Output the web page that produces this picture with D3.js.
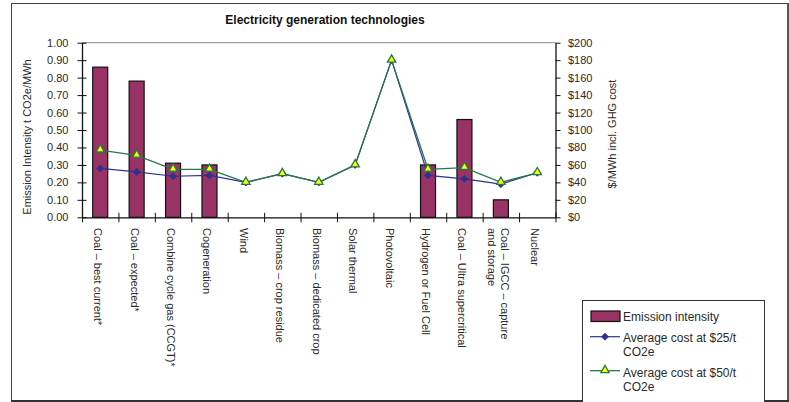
<!DOCTYPE html>
<html><head><meta charset="utf-8">
<script src="https://cdn.jsdelivr.net/npm/d3@7"></script>
<style>
html,body{margin:0;padding:0;background:#fff;}
svg{display:block;font-family:"Liberation Sans",Arial,Helvetica,sans-serif;}
</style></head><body>
<svg id="chart" width="789" height="402"></svg>
<script>
// Technologies compared ("\n" marks a label line break)
const categories = [
  "Coal – best current*", "Coal – expected*", "Combine cycle gas (CCGT)*", "Cogeneration",
  "Wind", "Biomass – crop residue", "Biomass – dedicated crop", "Solar thermal",
  "Photovoltaic", "Hydrogen or Fuel Cell", "Coal – Ultra supercritical",
  "Coal – IGCC – capture\nand storage", "Nuclear"
];
// Emission intensity, t CO2e/MWh (null = no bar)
const emissionIntensity = [0.86, 0.78, 0.31, 0.30, null, null, null, null, null, 0.30, 0.56, 0.10, null];
// Average cost, $/MWh incl. GHG cost
const costAt25 = [56, 52, 47, 48, 40, 50, 40, 60, 180, 48, 44, 38, 51];
const costAt50 = [77, 71, 55, 55, 40, 50, 40, 60, 180, 55, 57, 40, 51];
// Axis ticks
const leftTicks = [0, 0.1, 0.2, 0.3, 0.4, 0.5, 0.6, 0.7, 0.8, 0.9, 1.0];
const rightTicks = [0, 20, 40, 60, 80, 100, 120, 140, 160, 180, 200];
const seriesNames = ["Emission intensity", "Average cost at $25/t CO2e", "Average cost at $50/t CO2e"];

const svg = d3.select("#chart");
const plot = {left: 82, right: 555.5, top: 42.7, bottom: 217.3};
const textColor = "#2a2a2a";
const barFill = "#993366", blue = "#2e3192", green = "#23784a", yellow = "#ffff00";

// outer frame
svg.append("rect").attr("x", 11.5).attr("y", 3.5).attr("width", 776).attr("height", 397)
  .attr("fill", "#fff").attr("stroke", "#444").attr("stroke-width", 1);
svg.append("line").attr("x1", 788).attr("x2", 788).attr("y1", 3).attr("y2", 402).attr("stroke", "#555").attr("stroke-width", 2);
svg.append("line").attr("x1", 11).attr("x2", 789).attr("y1", 401).attr("y2", 401).attr("stroke", "#333").attr("stroke-width", 2);

// scales
const x = d3.scaleBand().domain(categories).range([plot.left, plot.right]).padding(0);
const xEdge = d3.scaleLinear().domain([0, categories.length]).range([plot.left, plot.right]);
const yL = d3.scaleLinear().domain([0, 1]).range([plot.bottom, plot.top]);
const yR = d3.scaleLinear().domain([0, 200]).range([plot.bottom, plot.top]);
const cx = c => x(c) + x.bandwidth() / 2;

// plot area top border
svg.append("line").attr("x1", plot.left).attr("x2", plot.right).attr("y1", plot.top).attr("y2", plot.top)
  .attr("stroke", "#8a8a8a").attr("stroke-width", 1);

// title
svg.append("text").attr("x", 325).attr("y", 24).attr("text-anchor", "middle")
  .attr("font-size", 12).attr("font-weight", "bold").attr("fill", "#111")
  .text("Electricity generation technologies");

// bars
const barW = 15;
svg.append("g").selectAll("rect")
  .data(categories.map((c, i) => ({c, v: emissionIntensity[i]})).filter(d => d.v != null))
  .join("rect")
  .attr("x", d => cx(d.c) - barW / 2)
  .attr("width", barW)
  .attr("y", d => yL(d.v))
  .attr("height", d => yL(0) - yL(d.v))
  .attr("fill", barFill).attr("stroke", "#111").attr("stroke-width", 1.2);

// left axis
const gL = svg.append("g").attr("transform", `translate(${plot.left},0)`)
  .call(d3.axisLeft(yL).tickValues(leftTicks).tickFormat(d3.format(".2f")).tickSize(4.5).tickSizeOuter(0).tickPadding(9));
gL.selectAll(".tick line").attr("x1", 4.5);
// right axis
const gR = svg.append("g").attr("transform", `translate(${plot.right},0)`)
  .call(d3.axisRight(yR).tickValues(rightTicks).tickFormat(d => "$" + d).tickSize(5).tickSizeOuter(0).tickPadding(7.5));
// bottom axis with ticks on category boundaries
const gB = svg.append("g").attr("transform", `translate(0,${plot.bottom})`)
  .call(d3.axisBottom(xEdge).tickValues(d3.range(0, categories.length + 1)).tickFormat("").tickSize(5).tickSizeOuter(0));
gB.selectAll(".tick line").attr("y1", -4.5);

[gL, gR, gB].forEach(g => {
  g.select(".domain").attr("stroke", "#111").attr("stroke-width", 1.3);
  g.selectAll(".tick line").attr("stroke", "#111");
  g.selectAll("text").attr("font-size", 11).attr("fill", textColor)
    .attr("font-family", '"Liberation Sans",Arial,Helvetica,sans-serif');
});

// axis titles
svg.append("text").attr("transform", "translate(31,137) rotate(-90)").attr("text-anchor", "middle")
  .attr("font-size", 11).attr("fill", textColor).text("Emission Intensity t CO2e/MWh");
svg.append("text").attr("transform", "translate(616,134) rotate(-90)").attr("text-anchor", "middle")
  .attr("font-size", 11).attr("fill", textColor).text("$/MWh incl. GHG cost");

// splits on explicit breaks, then word-wraps to a maximum width
function wrap(textSel, maxW, lineH) {
  textSel.each(function () {
    const t = d3.select(this);
    const paragraphs = t.text().split("\n");
    t.text(null);
    const lines = [];
    const probe = t.append("tspan");
    paragraphs.forEach(p => {
      let cur = [];
      p.split(" ").forEach(w => {
        probe.text(cur.concat([w]).join(" "));
        if (maxW && probe.node().getComputedTextLength() > maxW && cur.length) {
          lines.push(cur.join(" "));
          cur = [w];
        } else cur.push(w);
      });
      lines.push(cur.join(" "));
    });
    probe.remove();
    this.__lines = lines.length;
    const x0 = t.attr("x") || 0;
    lines.forEach((l, i) => {
      t.append("tspan").attr("x", x0).attr("dy", i === 0 ? 0 : lineH).text(l);
    });
  });
}

// category labels, rotated to read downward
const labelLineH = 13;
const labels = svg.append("g").selectAll("text").data(categories).join("text")
  .attr("font-size", 11).attr("fill", textColor)
  .text(d => d);
wrap(labels, 0, labelLineH);
labels.attr("transform", function (d) {
  const off = (this.__lines - 1) * labelLineH / 2;
  return `translate(${cx(d) - 6 + off},228) rotate(90)`;
});

// cost lines
const pts = arr => categories.map((c, i) => ({c, v: arr[i]}));
const line = d3.line().x(d => cx(d.c)).y(d => yR(d.v));
svg.append("path").datum(pts(costAt25)).attr("d", line).attr("fill", "none").attr("stroke", blue).attr("stroke-width", 1.2);
svg.append("path").datum(pts(costAt50)).attr("d", line).attr("fill", "none").attr("stroke", green).attr("stroke-width", 1.3);

const diamond = d3.symbol().type(d3.symbolDiamond2 || d3.symbolDiamond).size(32);
const tri = d3.symbol().type(d3.symbolTriangle).size(30);
svg.append("g").selectAll("path").data(pts(costAt25)).join("path")
  .attr("d", diamond)
  .attr("transform", d => `translate(${cx(d.c)},${yR(d.v)})`)
  .attr("fill", blue).attr("stroke", blue).attr("stroke-width", 0.8);
svg.append("g").selectAll("path").data(pts(costAt50)).join("path")
  .attr("d", tri)
  .attr("transform", d => `translate(${cx(d.c)},${yR(d.v) - 0.5})`)
  .attr("fill", yellow).attr("stroke", green).attr("stroke-width", 1.3);

// legend
const lg = svg.append("g");
lg.append("rect").attr("x", 582.5).attr("y", 300.5).attr("width", 182).attr("height", 102)
  .attr("fill", "#fff").attr("stroke", "#333").attr("stroke-width", 1);
lg.append("rect").attr("x", 591).attr("y", 311).attr("width", 29).attr("height", 10.5)
  .attr("fill", barFill).attr("stroke", "#111").attr("stroke-width", 1.2);
lg.append("line").attr("x1", 590).attr("x2", 620).attr("y1", 336.7).attr("y2", 336.7).attr("stroke", blue).attr("stroke-width", 1.2);
lg.append("path").attr("d", diamond).attr("transform", "translate(605,336.7)").attr("fill", blue).attr("stroke", blue).attr("stroke-width", 0.8);
lg.append("line").attr("x1", 590).attr("x2", 620).attr("y1", 370.7).attr("y2", 370.7).attr("stroke", green).attr("stroke-width", 1.3);
lg.append("path").attr("d", tri).attr("transform", "translate(605,370.2)").attr("fill", yellow).attr("stroke", green).attr("stroke-width", 1.3);
const legY = [320.5, 342, 377];
const legText = lg.selectAll("text.leg").data(seriesNames).join("text").attr("class", "leg")
  .attr("x", 623).attr("y", (d, i) => legY[i])
  .attr("font-size", 12).attr("fill", textColor).text(d => d);
wrap(legText, 135, 14);
</script>
</body></html>
